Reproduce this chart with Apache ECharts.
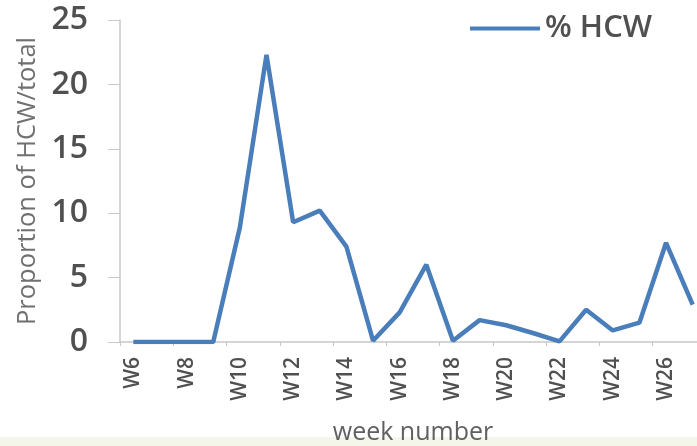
<!DOCTYPE html>
<html>
<head>
<meta charset="utf-8">
<script src="https://cdn.jsdelivr.net/npm/echarts@6/dist/echarts.min.js"></script>
<style>
html,body{margin:0;padding:0;background:#fff;}
#chart{width:697px;height:446px;}
</style>
</head>
<body>
<div id="chart"></div>
<script>
var weeks = ['W6','W7','W8','W9','W10','W11','W12','W13','W14','W15','W16','W17','W18','W19','W20','W21','W22','W23','W24','W25','W26','W27'];
var hcwPercent = [0, 0, 0, 0, 8.9, 22.3, 9.3, 10.2, 7.4, 0.1, 2.3, 6.0, 0.1, 1.7, 1.3, 0.7, 0.05, 2.5, 0.9, 1.5, 7.7, 2.9];
var yTicks = [0, 5, 10, 15, 20, 25];

var FONT = 'Open Sans';
var chart = echarts.init(document.getElementById('chart'));
chart.setOption({
  animation: false,
  backgroundColor: '#ffffff',
  grid: {left: 120, top: 20, right: -9, bottom: 104, containLabel: false, outerBoundsMode: 'none'},
  legend: {
    data: ['% HCW'],
    left: 465, top: 8,
    icon: 'rect', itemWidth: 70, itemHeight: 4, itemGap: 5,
    textStyle: {fontFamily: FONT, fontSize: 31, color: '#505050', fontWeight: 600}
  },
  graphic: [{
    type: 'rect', left: 0, top: 437, shape: {width: 697, height: 9},
    style: {fill: '#f4f6ea'}, silent: true
  }],
  xAxis: {
    type: 'category',
    data: weeks,
    name: 'week number',
    nameLocation: 'middle',
    nameGap: 78,
    nameTextStyle: {fontFamily: FONT, fontSize: 25, color: '#606060'},
    axisLine: {lineStyle: {color: '#c8c8c8', width: 1.5}},
    axisTick: {show: true, length: 4, lineStyle: {color: '#c8c8c8'}},
    axisLabel: {interval: 1, rotate: 90, margin: 15, fontFamily: FONT, fontSize: 21, color: '#505050', fontWeight: 600},
    splitLine: {show: false}
  },
  yAxis: {
    type: 'value',
    min: yTicks[0], max: yTicks[yTicks.length - 1], interval: 5,
    name: 'Proportion of HCW/total',
    nameLocation: 'middle',
    nameGap: 76,
    nameTextStyle: {fontFamily: FONT, fontSize: 25.5, color: '#707070'},
    axisLine: {show: true, lineStyle: {color: '#c8c8c8', width: 1.5}},
    axisTick: {show: true, length: 12, lineStyle: {color: '#c8c8c8'}},
    axisLabel: {margin: 32, fontFamily: FONT, fontSize: 32, color: '#505050', fontWeight: 600},
    splitLine: {show: false}
  },
  series: [{
    name: '% HCW',
    type: 'line',
    data: hcwPercent,
    symbol: 'none',
    lineStyle: {color: '#4a7ebb', width: 4.5},
    itemStyle: {color: '#4a7ebb'}
  }]
});
</script>
</body>
</html>
